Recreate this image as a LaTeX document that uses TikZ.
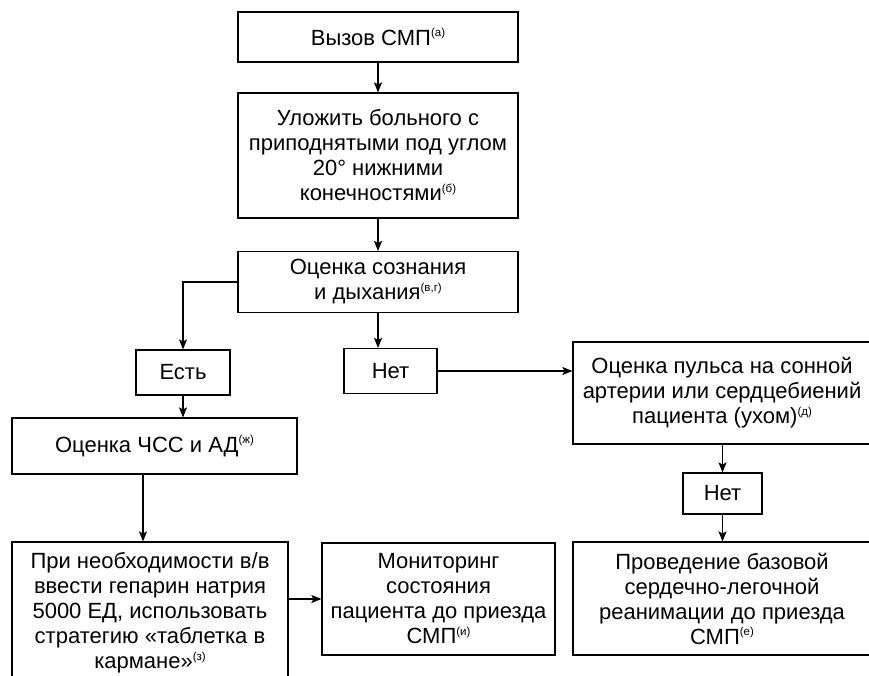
\documentclass[tikz,border=0pt]{standalone}
\usepackage{fontspec}
\setmainfont{Liberation Sans}
\usetikzlibrary{arrows.meta,calc}
\newcommand\fnote[1]{\raisebox{0.7ex}{\fontsize{11.5}{12}\selectfont(#1)}}
\begin{document}
\begin{tikzpicture}[x=1pt,y=-1pt,
  box/.style={draw=black,line width=1.2pt,align=center,inner sep=0pt,
    font=\fontsize{22}{25}\selectfont},
  arr/.style={line width=1.1pt,-{Stealth[length=10pt,width=8pt,inset=2pt]}},
  ln/.style={line width=1.1pt}]
\useasboundingbox (0,0) rectangle (869,675);
\fill[white] (0,0) rectangle (869,675);
\clip (0,0) rectangle (869,675);
\node[box,minimum width=280,minimum height=50] (b1) at (378,37) {Вызов СМП\fnote{а}};
\node[box,minimum width=280,minimum height=125] (b2) at (378,155.5)
  {Уложить больного с\\приподнятыми под углом\\20° нижними\\конечностями\fnote{б}};
\node[box,minimum width=280,minimum height=61] (b3) at (378,282)
  {Оценка сознания\\и дыхания\fnote{в,г}};
\node[box,minimum width=94,minimum height=45] (est) at (183,372.5) {Есть};
\node[box,minimum width=93,minimum height=45] (net1) at (390.5,371) {Нет};
\node[box,minimum width=298,minimum height=102] (pulse) at (722,393)
  {Оценка пульса на сонной\\артерии или сердцебиений\\пациента (ухом)\fnote{д}};
\node[box,minimum width=79,minimum height=41] (net2) at (722.5,493.5) {Нет};
\node[box,minimum width=285,minimum height=56] (chss) at (154.5,446) {Оценка ЧСС и АД\fnote{ж}};
\node[box,minimum width=276,minimum height=142] (lb) at (150,613)
  {При необходимости в/в\\ввести гепарин натрия\\5000 ЕД, использовать\\стратегию «таблетка в\\кармане»\fnote{з}};
\node[box,minimum width=233,minimum height=112] (mon) at (438.5,599)
  {Мониторинг\\состояния\\пациента до приезда\\СМП\fnote{и}};
\node[box,minimum width=298,minimum height=113] (cpr) at (722,598.5)
  {Проведение базовой\\сердечно-легочной\\реанимации до приезда\\СМП\fnote{е}};
\draw[arr] (b1.south) -- (b2.north);
\draw[arr] (b2.south) -- (b3.north);
\draw[arr] (b3.west) -| (est.north);
\draw[arr] (b3.south) -- (b3.south |- net1.north);
\draw[arr] (net1.east) -- (net1.east -| pulse.west);
\draw[arr] (est.south) -- (est.south |- chss.north);
\draw[arr] ([xshift=-7pt]lb.north |- chss.south) -- ([xshift=-7pt]lb.north);
\draw[arr] (lb.east |- mon.west) -- (mon.west);
\draw[arr] (pulse.south -| net2.north) -- (net2.north);
\draw[arr] (net2.south) -- (net2.south |- cpr.north);
\end{tikzpicture}
\end{document}
